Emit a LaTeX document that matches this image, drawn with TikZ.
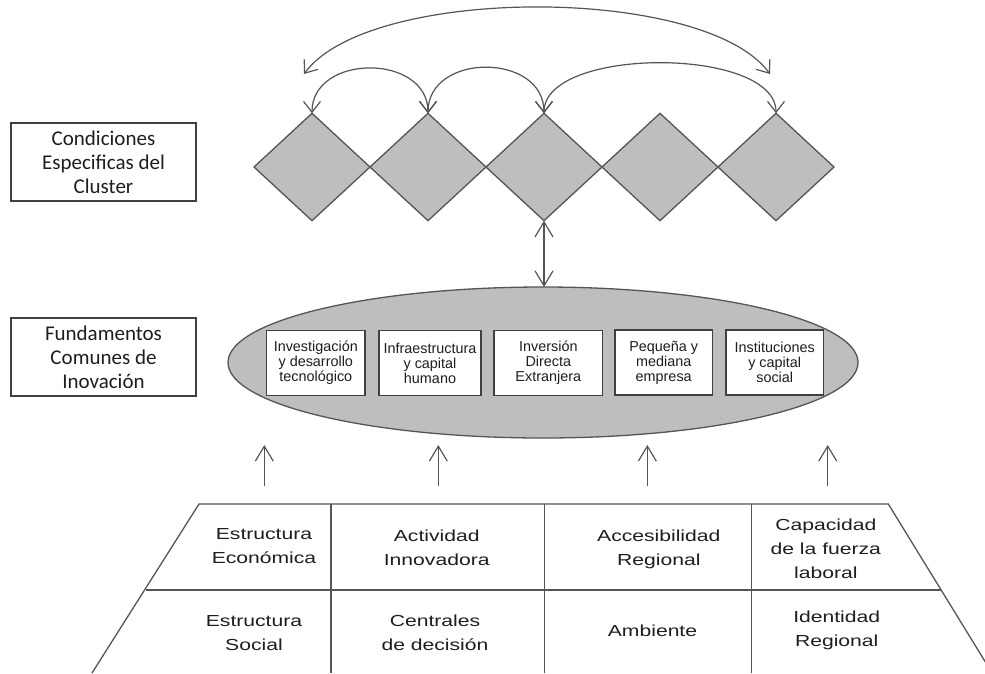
\documentclass[tikz,border=0pt]{standalone}
\usepackage{fontspec}
\setmainfont{Liberation Sans}
\newfontfamily\calib{Carlito}
\newfontfamily\widesans[FakeStretch=1.32]{Liberation Sans}
\usetikzlibrary{shapes.geometric,arrows.meta}
\definecolor{gfill}{RGB}{192,189,189}
\definecolor{gline}{RGB}{85,85,85}
\definecolor{bline}{RGB}{64,64,64}
\definecolor{tcol}{RGB}{30,30,30}
\begin{document}
\begin{tikzpicture}[x=1pt,y=-1pt,
  dia/.style={diamond, draw=gline, fill=gfill, line width=1.3pt, minimum width=116pt, minimum height=107.4pt, inner sep=0pt, outer sep=0pt},
  ellnode/.style={ellipse, draw=gline, fill=gfill, line width=1.3pt, minimum width=630pt, minimum height=151pt, inner sep=0pt, outer sep=0pt},
  sidebox/.style={draw=bline, line width=1.3pt, minimum width=185pt, minimum height=78pt, inner sep=0pt, align=center, text=tcol, font=\calib\fontsize{21}{23.8}\selectfont},
  inbox/.style={draw=bline, fill=white, line width=1.2pt, minimum height=65pt, inner sep=0pt, align=center, text=tcol, font=\fontsize{14.4}{15}\selectfont},
  bt/.style={align=center, inner sep=0pt, text=tcol, font=\widesans\fontsize{16}{24}\selectfont},
  arr/.style={draw=gline, line width=1.2pt, >={Straight Barb[length=11pt,width=17pt]}},
  uarr/.style={draw=gline, line width=1.2pt, >={Straight Barb[length=15pt,width=18pt]}},
  tline/.style={draw=gline, line width=1.3pt}
]
\useasboundingbox (0,0) rectangle (985,673);

% left labels
\node[sidebox] (lab1) at (103.5,162) {Condiciones\\Especificas del\\Cluster};
\node[sidebox] (lab2) at (103.5,357) {Fundamentos\\Comunes de\\Inovación};

% diamonds
\node[dia] (d1) at (312,167) {};
\node[dia] (d2) at (428,167) {};
\node[dia] (d3) at (544,167) {};
\node[dia] (d4) at (660,167) {};
\node[dia] (d5) at (776,167) {};

% arcs between diamonds
\draw[arr,<->] (d1.north) .. controls +(0,-60) and +(0,-60) .. (d2.north);
\draw[arr,<->] (d2.north) .. controls +(0,-61) and +(0,-61) .. (d3.north);
\draw[arr,<->] (d3.north) .. controls +(0,-67) and +(0,-67) .. (d5.north);
\coordinate (bl) at (304,74);
\coordinate (br) at (770,74);
\draw[arr,<->] (bl) .. controls (369,-15) and (705,-15) .. (br);

% ellipse
\node[ellnode] (ell) at (543,362.5) {};
\draw[uarr,<->] (d3.south) -- (d3.south |- ell.north);

% inner boxes
\node[inbox, minimum width=98.3pt] (b1) at (315.8,363) {Investigación\\y desarrollo\\tecnológico};
\node[inbox, minimum width=102pt] (b2) at (430,363) {Infraestructura\\y capital\\humano};
\node[inbox, minimum width=108.7pt] (b3) at (548.3,363) {Inversión\\Directa\\Extranjera};
\node[inbox, minimum width=97.3pt] (b4) at (663.7,362.5) {Pequeña y\\mediana\\empresa};
\node[inbox, minimum width=97.3pt] (b5) at (774.7,362.5) {Instituciones\\y capital\\social};

% up arrows
\coordinate (u1s) at (264.3,486); \coordinate (u1e) at (264.3,445);
\coordinate (u2s) at (438.3,486); \coordinate (u2e) at (438.3,445);
\coordinate (u3s) at (647.3,486); \coordinate (u3e) at (647.3,445);
\coordinate (u4s) at (827.7,486); \coordinate (u4e) at (827.7,445);
\draw[uarr,->] (u1s) -- (u1e);
\draw[uarr,->] (u2s) -- (u2e);
\draw[uarr,->] (u3s) -- (u3e);
\draw[uarr,->] (u4s) -- (u4e);

% trapezoid
\coordinate (tl) at (199,504);
\coordinate (tr) at (888.3,504);
\coordinate (bl2) at (92,673);
\coordinate (br2) at (986,663);
\coordinate (ml) at (145.7,590);
\coordinate (mr) at (940.7,590);
\draw[tline] (bl2) -- (tl) -- (tr) -- (br2);
\draw[tline] (ml) -- (mr);
\draw[tline] (331,504) -- (331,673);
\draw[tline] (544.3,504) -- (544.3,673);
\draw[tline] (751.7,504) -- (751.7,673);

% trapezoid texts
\node[bt] (c1) at (264,546) {Estructura\\Económica};
\node[bt] (c2) at (436.7,548) {Actividad\\Innovadora};
\node[bt] (c3) at (658.8,549) {Accesibilidad\\Regional};
\node[bt] (c4) at (825.8,549) {Capacidad\\de la fuerza\\laboral};
\node[bt] (c5) at (254,633) {Estructura\\Social};
\node[bt] (c6) at (435,633) {Centrales\\de decisión};
\node[bt] (c7) at (652.5,631) {Ambiente};
\node[bt] (c8) at (836.7,630) {Identidad\\Regional};
\end{tikzpicture}
\end{document}
